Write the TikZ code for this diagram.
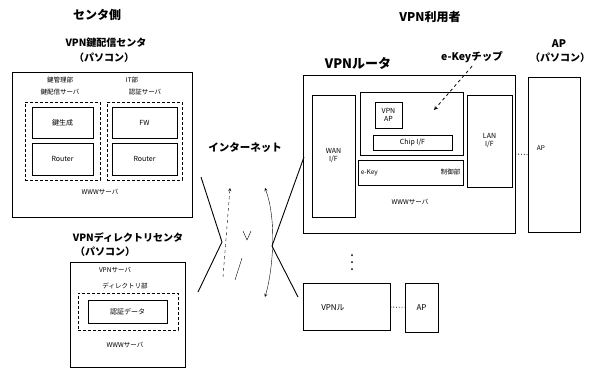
\documentclass[tikz,border=0pt]{standalone}
\usepackage{fontspec}
\setmainfont{Noto Sans CJK JP}
\usetikzlibrary{positioning, calc}
\tikzset{>=stealth}

\begin{document}
\begin{tikzpicture}[
    x=1pt, y=-1pt,
    font=\fontsize{7}{8}\selectfont,
    blk/.style={draw, line width=0.9pt, inner sep=1pt, align=center},
    dblk/.style={draw, line width=0.9pt, dash pattern=on 3pt off 2pt},
    sz/.style 2 args={minimum width=#1pt, minimum height=#2pt},
    ttl/.style={font=\fontsize{12}{14}\selectfont\bfseries},
    captxt/.style={font=\fontsize{10}{12}\selectfont\bfseries, inner sep=0pt},
    lbl/.style={font=\fontsize{6.5}{7.5}\selectfont, inner sep=1pt, align=center},
    net/.style={line width=0.9pt},
  ]
  \useasboundingbox (0,0) rectangle (591,370);

  % titles
  \node[ttl] (ctr) at (97,15) {センタ側};
  \node[ttl] (usr) at (430,17) {VPN利用者};

  % key distribution centre
  \node[captxt] (keycap) at (106,43) {VPN鍵配信センタ};
  \node[captxt] (keypc) at (104,58) {（パソコン）};
  \node[blk, sz={180}{145}] (keyctr) at (102,144.5) {};
  \node[lbl] (keyt1) at (60,80) {鍵管理部};
  \node[lbl] (keyt2) at (132,80) {IT部};
  \node[lbl] (keys1) at (60,92) {鍵配信サーバ};
  \node[lbl] (keys2) at (145,92) {認証サーバ};
  \node[dblk, sz={75}{78}] (keyl) at (62.5,141) {};
  \node[dblk, sz={75}{78}] (keyr) at (144.5,141) {};
  \node[blk, sz={61}{31}] (keydb) at (62.5,122.5) {鍵生成};
  \node[blk, sz={61}{32}] (rtrl) at (62.5,159) {Router};
  \node[blk, sz={65}{31}] (fw) at (144.5,122.5) {FW};
  \node[blk, sz={65}{32}] (rtrr) at (144.5,159) {Router};
  \node[lbl] (www1) at (100,192) {WWWサーバ};

  % directory centre
  \node[captxt] (dircap) at (128,238) {VPNディレクトリセンタ};
  \node[captxt] (dirpc) at (105,252) {（パソコン）};
  \node[blk, sz={115}{105}] (dirctr) at (127.5,314.5) {};
  \node[lbl] (vsrv) at (115,270) {VPNサーバ};
  \node[lbl] (dirsub) at (125,286) {ディレクトリ部};
  \node[dblk, sz={100}{37}] (dirdash) at (128,311.5) {};
  \node[blk, sz={79}{23}] (dirdb) at (127.5,311.5) {認証データ};
  \node[lbl] (www2) at (125,345) {WWWサーバ};

  % VPN router
  \node[font=\fontsize{13}{15}\selectfont\bfseries] (rtrcap) at (358,63) {VPNルータ};
  \node[blk, sz={212}{158}] (router) at (409,154) {};
  \node[blk, sz={43}{122}] (wanif) at (333.5,156) {WAN\\I/F};
  \node[blk, sz={103}{63}] (chip) at (411.5,123.5) {};
  \node[blk, sz={27}{26}] (vpnap) at (388.5,115) {VPN\\AP};
  \node[blk, sz={79}{15}] (chipif) at (412.5,142.5) {Chip I/F};
  \node[blk, sz={105}{25}] (ctl) at (410.5,172.5) {};
  \node[lbl, anchor=west] (ctll) at ($(ctl.west)+(2,0)$) {e-Key};
  \node[lbl, anchor=east] (ctlr) at ($(ctl.east)+(-2,0)$) {制御部};
  \node[lbl] (www3) at (410,202) {WWWサーバ};
  \node[blk, sz={45}{92}] (lanif) at (489.5,141) {LAN\\I/F};
  \node[font=\fontsize{10.5}{12}\selectfont\bfseries] (ekey) at (472,57) {e-Keyチップ};
  \coordinate (ekeyp) at (434,110);
  \draw[->, dashed, thick] (ekey.south) -- (ekeyp);

  % AP
  \node[font=\fontsize{10.5}{12}\selectfont\bfseries] (apcap) at (559,44) {AP};
  \node[font=\fontsize{10}{12}\selectfont\bfseries, inner sep=0pt] (appc) at (560,58) {（パソコン）};
  \node[blk, sz={52}{155}] (ap) at (554,154.5) {};
  \node[lbl] (apl) at (541,148) {AP};
  \draw[dotted, thick] (router.east) -- (ap.west);

  % other users
  \coordinate (more) at (352,262);
  \foreach \dy in {-7,0,7} \fill ($(more)+(0,\dy)$) circle (1pt);
  \node[blk, sz={87}{47}] (vpn2) at (346.5,306.5) {};
  \node[lbl, font=\fontsize{8}{9}\selectfont] (vpn2l) at (333,308) {VPNル};
  \node[blk, sz={33}{49}, font=\fontsize{8}{9}\selectfont] (ap2) at (421.5,307.5) {AP};
  \draw[dotted, thick] (vpn2) -- (ap2);

  % internet
  \node[font=\fontsize{10.5}{12}\selectfont\bfseries] (inet) at (245,148) {インターネット};
  \coordinate (xl) at (222,242);
  \coordinate (xr) at (272,246);
  \coordinate (kout) at (201,177);
  \coordinate (dout) at (198,292);
  \coordinate (rin) at (304,157);
  \coordinate (vin) at (298,297);
  \draw[net] (kout) -- (xl) -- (dout);
  \draw[net] (rin) -- (xr) -- (vin);
  \coordinate (up1) at (223,277);
  \coordinate (up2) at (230,188);
  \draw[->, dashed] (up1) -- (up2);
  \coordinate (dn1) at (235,280);
  \coordinate (dn2) at (247,240);
  \draw (dn1) -- (242,258);
  \draw (243,231) -- (dn2) -- (251,231);
  \coordinate (cv1) at (265,188);
  \coordinate (cv2) at (265,297);
  \draw[<->] (cv1) .. controls (277,220) and (273,270) .. (cv2);
\end{tikzpicture}
\end{document}
